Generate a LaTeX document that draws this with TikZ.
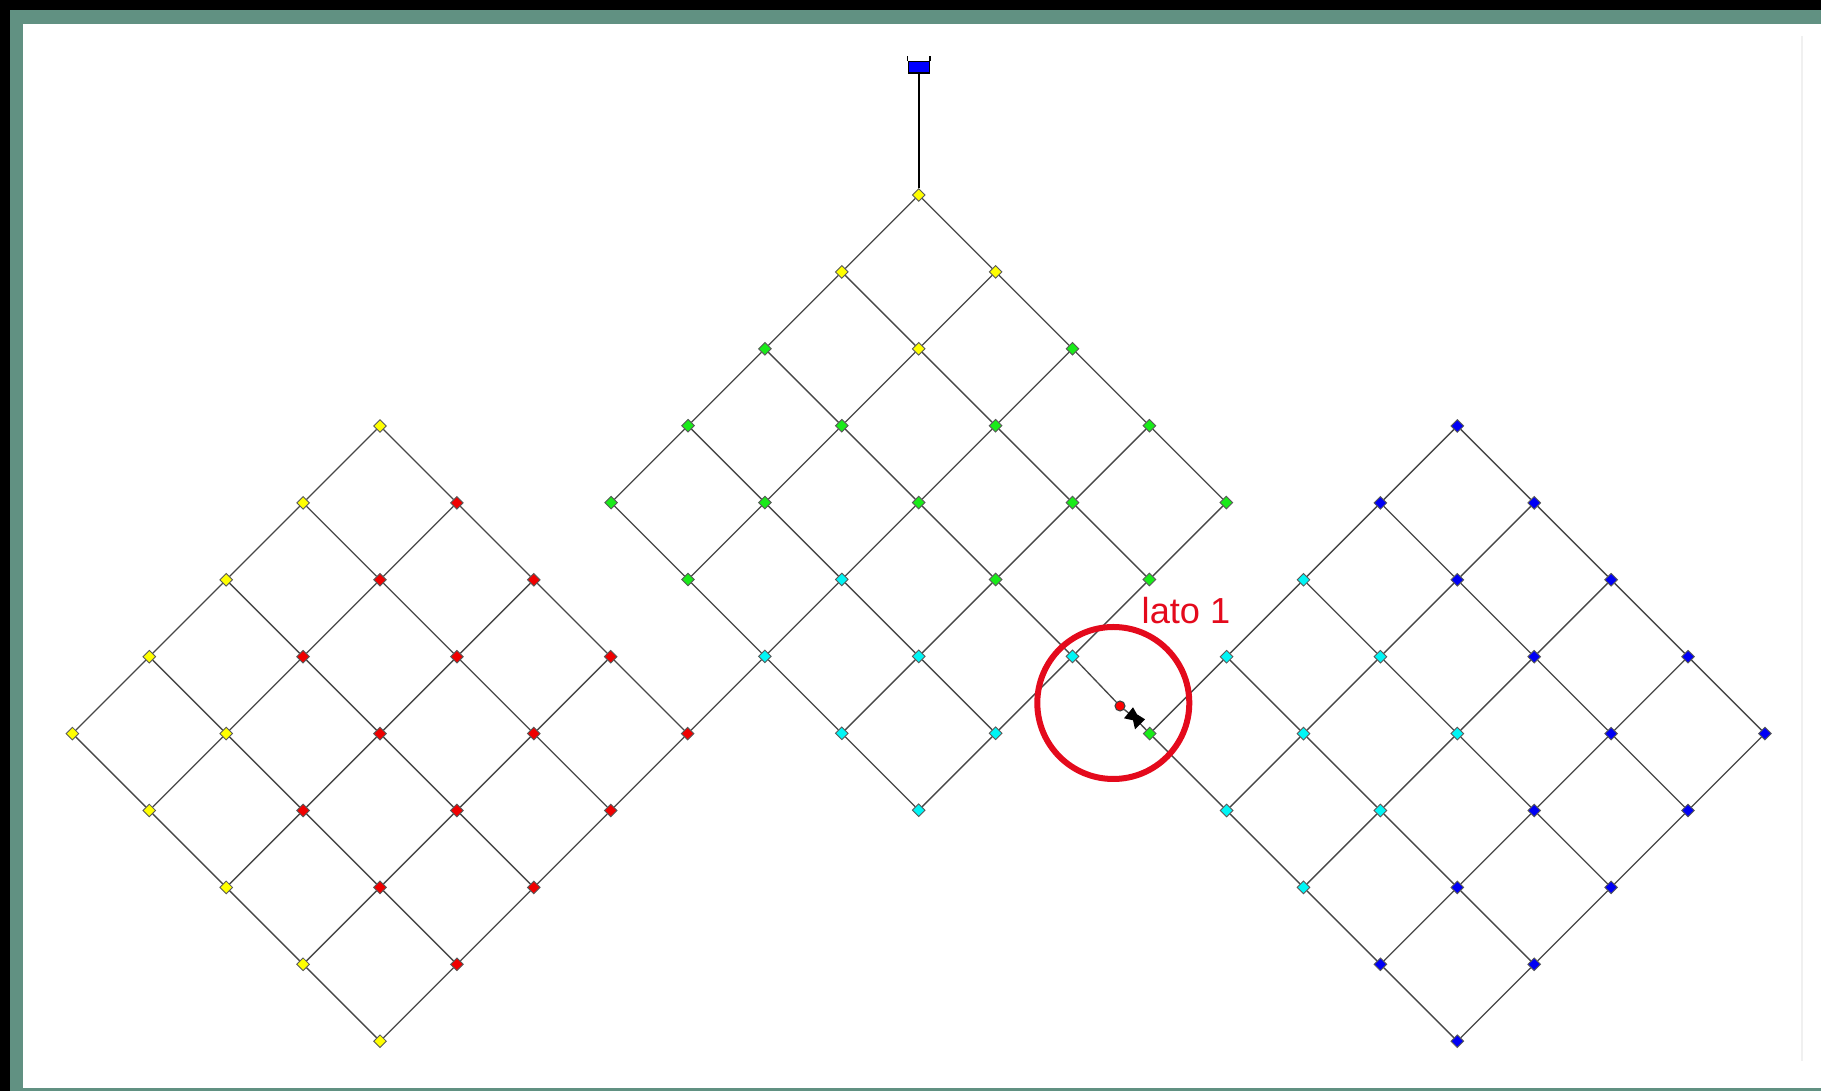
\documentclass[tikz,border=0pt]{standalone}
\usepackage{fontspec}
\usepackage{xcolor}
\setmainfont{Liberation Sans}
\usetikzlibrary{shapes.geometric}
\definecolor{frameteal}{RGB}{97,145,130}
\definecolor{ringred}{RGB}{228,10,28}
\definecolor{jgreen}{RGB}{25,235,25}
\definecolor{jcyan}{RGB}{0,245,245}
\definecolor{jyellow}{RGB}{255,255,0}
\definecolor{jred}{RGB}{240,0,0}
\definecolor{jblue}{RGB}{0,0,245}

\begin{document}
\begin{tikzpicture}[
  nd/.style={diamond, draw=black!65, line width=0.25pt, inner sep=0pt, minimum width=0.13cm, minimum height=0.13cm},
  pipe/.style={black!72, line width=0.38pt},
  ye/.style={nd, fill=jyellow},
  re/.style={nd, fill=jred},
  gr/.style={nd, fill=jgreen},
  cy/.style={nd, fill=jcyan},
  bl/.style={nd, fill=jblue}]
\useasboundingbox (0,0) rectangle (18.21,10.91);
% ---------------- window frame ----------------
\fill[black] (0,0) rectangle (18.21,10.91);
\fill[frameteal] (0.10,0) rectangle (18.21,10.81);
\fill[white] (0.233,0.03) rectangle (18.21,10.67);
\fill[black!6] (18.01,0.30) rectangle (18.03,10.55);
% ---------------- left square ----------------
\foreach \a/\b/\t in {0/0/ye,
    0/1/ye, 1/0/re,
    0/2/ye, 1/1/re, 2/0/re,
    0/3/ye, 1/2/re, 2/1/re, 3/0/re,
    0/4/ye, 1/3/ye, 2/2/re, 3/1/re, 4/0/re,
    1/4/ye, 2/3/re, 3/2/re, 4/1/re,
    2/4/ye, 3/3/re, 4/2/re,
    3/4/ye, 4/3/re,
    4/4/ye}
  \node[\t] (L\a\b) at ({3.80+(\a-\b)*0.769},{6.65-(\a+\b)*0.769}) {};
% ---------------- middle square ----------------
\foreach \a/\b/\t in {0/0/ye,
    0/1/ye, 1/0/ye,
    0/2/gr, 1/1/ye, 2/0/gr,
    0/3/gr, 1/2/gr, 2/1/gr, 3/0/gr,
    0/4/gr, 1/3/gr, 2/2/gr, 3/1/gr, 4/0/gr,
    1/4/gr, 2/3/cy, 3/2/gr, 4/1/gr,
    2/4/cy, 3/3/cy, 4/2/cy,
    3/4/cy, 4/3/cy,
    4/4/cy}
  \node[\t] (C\a\b) at ({9.187+(\a-\b)*0.769},{8.96-(\a+\b)*0.769}) {};
% ---------------- right square ----------------
\foreach \a/\b/\t in {0/0/bl,
    0/1/bl, 1/0/bl,
    0/2/cy, 1/1/bl, 2/0/bl,
    0/3/cy, 1/2/cy, 2/1/bl, 3/0/bl,
    0/4/gr, 1/3/cy, 2/2/cy, 3/1/bl, 4/0/bl,
    1/4/cy, 2/3/cy, 3/2/bl, 4/1/bl,
    2/4/cy, 3/3/bl, 4/2/bl,
    3/4/bl, 4/3/bl,
    4/4/bl}
  \node[\t] (R\a\b) at ({14.573+(\a-\b)*0.769},{6.65-(\a+\b)*0.769}) {};
% ---------------- lattice pipes ----------------
\foreach \s in {L,C,R}
  \foreach \a in {0,...,3}
    \foreach \b in {0,...,4} {
      \pgfmathtruncatemacro\n{\a+1}
      \draw[pipe] (\s\a\b) -- (\s\n\b);
      \draw[pipe] (\s\b\a) -- (\s\b\n);
    }
% ---------------- tank ----------------
\node[draw=black, fill=blue, line width=0.4pt, inner sep=0pt, minimum width=0.21cm, minimum height=0.115cm] (tank) at (9.187,10.237) {};
\draw[black, line width=0.4pt] (tank.north west) -- ++(0,0.045);
\draw[black, line width=0.4pt] (tank.north east) -- ++(0,0.045);
\draw[black, line width=0.45pt] (tank) -- (C00);
% ---------------- links between squares ----------------
\draw[pipe] (L40) -- (C24);
\node[circle, draw=black!75, fill=red, line width=0.3pt, inner sep=0pt, minimum size=0.10cm] (dot) at (11.20,3.85) {};
\coordinate (valve) at (11.35,3.727);
\draw[pipe] (C42) -- (dot);
\draw[pipe] (dot) -- (valve);
\draw[pipe] (valve) -- (R04);
\fill[black] (valve) ++(-0.11,0) -- ++(0.09,0.11) -- ++(0.04,-0.07) -- ++(0.08,-0.05) -- ++(-0.10,-0.10) -- ++(-0.02,0.09) -- cycle;
% ---------------- mark and label ----------------
\node[circle, draw=ringred, line width=0.06cm, inner sep=0pt, minimum size=1.52cm] (ring) at (11.133,3.88) {};
\node[anchor=base west, inner sep=0pt, text=ringred, font=\fontsize{10.3}{12}\selectfont] (side) at (11.41,4.67) {lato 1};
\end{tikzpicture}
\end{document}
